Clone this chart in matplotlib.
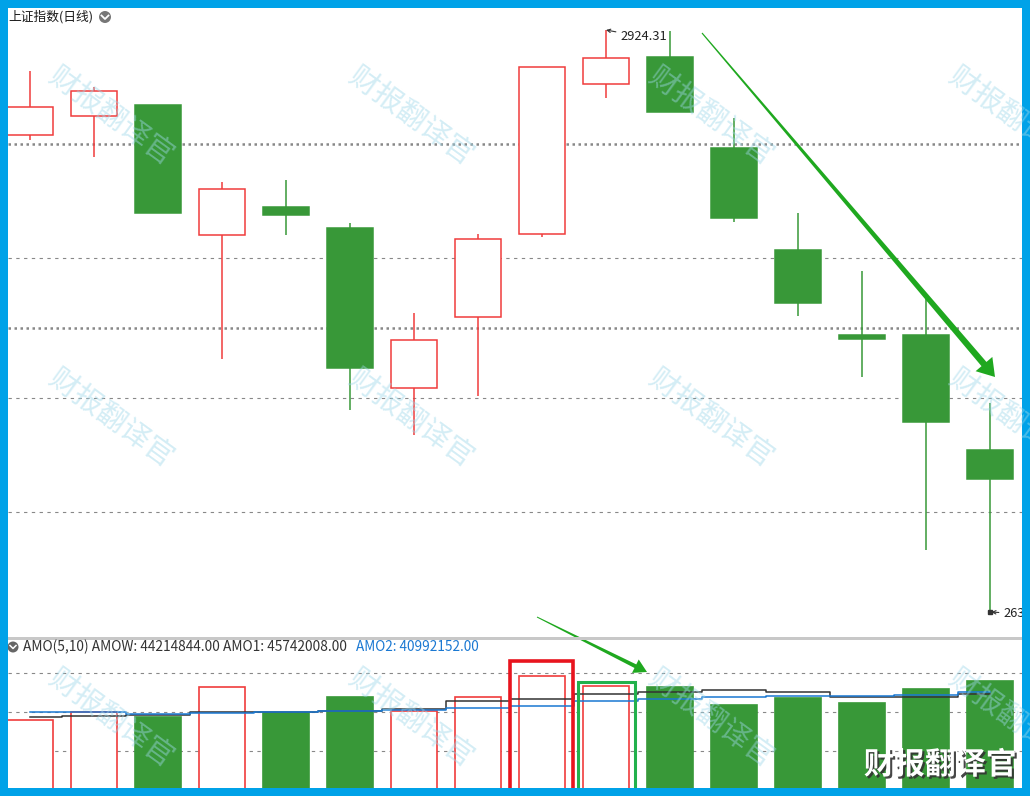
import matplotlib
matplotlib.use('Agg')
import matplotlib.pyplot as plt
import matplotlib.patheffects as pe
from matplotlib.patches import Rectangle, Polygon, Circle
import numpy as np

plt.rcParams['font.family'] = ['Noto Sans CJK SC', 'DejaVu Sans']

# 上证指数日K (16 根)
opens = [2872.1, 2881.6, 2887.0, 2822.4, 2836.3, 2825.9, 2746.4, 2781.7,
         2822.9, 2897.5, 2910.9, 2865.7, 2815.0, 2772.7, 2772.7, 2715.6]
closes = [2886.0, 2894.0, 2833.4, 2845.3, 2832.4, 2756.3, 2770.2, 2820.4,
          2905.9, 2910.4, 2883.6, 2830.9, 2788.6, 2770.7, 2729.5, 2701.2]
highs = [2903.9, 2896.0, 2887.0, 2848.8, 2849.8, 2828.4, 2783.7, 2822.9,
         2906.1, 2924.31, 2923.8, 2880.6, 2833.4, 2804.5, 2791.1, 2738.9]
lows = [2869.6, 2861.2, 2833.4, 2760.8, 2822.4, 2735.5, 2723.0, 2742.4,
        2821.4, 2890.5, 2883.6, 2828.9, 2782.2, 2751.9, 2665.9, 2635.06]

# 成交额 (百万) 及均线
amo = [39.0, 40.1, 39.4, 43.4, 40.0, 42.1, 40.2, 42.1,
       44.9, 43.6, 43.4, 41.0, 42.0, 41.3, 43.2, 44.2]
amo1 = [39.44, 39.58, 39.71, 40.11, 40.11, 40.24, 40.51, 41.57,
        41.84, 42.50, 42.77, 43.03, 42.77, 42.10, 42.10, 42.50]
amo2 = [40.11, 40.11, 39.84, 39.98, 40.11, 40.24, 40.37, 40.64,
        40.91, 41.57, 41.84, 42.10, 42.24, 42.24, 42.37, 42.77]

price_grid = [2867.65, 2810.99, 2776.20, 2741.41, 2684.76]
price_grid_dotted = [True, False, True, False, False]
vol_grid = [45.30, 40.11, 34.92]

RED = '#f03c3c'
GREEN = '#389838'
W, H = 1030, 796

fig = plt.figure(figsize=(10.3, 7.96), dpi=100, facecolor='white')


def box(x0, y0, x1, y1):
    return [x0 / W, 1 - y1 / H, (x1 - x0) / W, (y1 - y0) / H]


ax = fig.add_axes(box(8, 8, 1022, 637))
axv = fig.add_axes(box(8, 640, 1022, 788))
for a in (ax, axv):
    a.set_facecolor('white')
    for s in a.spines.values():
        s.set_visible(False)
    a.set_xticks([])
    a.set_yticks([])
    a.set_xlim(-0.344, 15.5)

ax.set_ylim(2622.63, 2935.24)
axv.set_ylim(30, 49.68)

idx = np.arange(len(opens))
o = np.array(opens)
c = np.array(closes)
up = c >= o

# 网格线
for v, dotted in zip(price_grid, price_grid_dotted):
    if dotted:
        ax.axhline(v, color='#888888', lw=1.8, ls=(0, (1, 1.4)), zorder=1)
    else:
        ax.axhline(v, color='#888888', lw=0.8, ls=(0, (3, 4)), zorder=1)
for v in vol_grid:
    axv.axhline(v, color='#888888', lw=0.8, ls=(0, (3, 4)), zorder=1)

# K线
edge = [RED if u else GREEN for u in up]
face = ['white' if u else GREEN for u in up]
ax.vlines(idx, lows, highs, colors=edge, lw=1.1, zorder=2)
bottoms = np.minimum(o, c)
heights = np.maximum(np.abs(c - o), 1.5)
ax.bar(idx, heights, bottom=bottoms, width=0.72, color=face,
       edgecolor=edge, lw=1.1, zorder=3)

# 最高/最低价标注
ih = int(np.argmax(highs))
ax.annotate(f'{highs[ih]:.2f}', xy=(ih, highs[ih]), xytext=(14, -7),
            textcoords='offset pixels', ha='left', va='center', fontsize=9.3,
            color='#222222', zorder=5,
            arrowprops=dict(arrowstyle='->', color='#333333', lw=0.8,
                            shrinkA=1, shrinkB=0, mutation_scale=6))
il = int(np.argmin(lows))
ax.plot(il, lows[il], 's', ms=2.5, color='#333333', zorder=5)
ax.annotate(f'{lows[il]:.2f}', xy=(il, lows[il]), xytext=(13, -2),
            textcoords='offset pixels', ha='left', va='center', fontsize=9.3,
            color='#222222', zorder=5,
            arrowprops=dict(arrowstyle='->', color='#333333', lw=0.8,
                            shrinkA=1, shrinkB=1, mutation_scale=6))

# 成交额柱
axv.bar(idx, amo, width=0.72, color=face, edgecolor=edge, lw=1.2, zorder=3)
axv.plot(idx, amo1, color='#333333', lw=1.1, drawstyle='steps-mid', zorder=4)
axv.plot(idx, amo2, color='#1a78d2', lw=1.1, drawstyle='steps-mid', zorder=4)

# 高亮框
axv.add_patch(Rectangle((7.5, 20), 0.984, 46.89 - 20, fill=False,
                        edgecolor='#e8141e', lw=2.6, zorder=5))
axv.add_patch(Rectangle((8.5625, 20), 0.89, 44.10 - 20, fill=False,
                        edgecolor='#22b14c', lw=2.2, zorder=5))

# 覆盖层 (像素坐标)
ov = fig.add_axes([0, 0, 1, 1])
ov.set_zorder(10)
ov.set_xlim(0, W)
ov.set_ylim(H, 0)
ov.axis('off')


def taper_arrow(x0, y0, x1, y1, w0, w1, hl, hw, color):
    d = np.array([x1 - x0, y1 - y0], dtype=float)
    u = d / np.hypot(*d)
    n = np.array([-u[1], u[0]])
    p0 = np.array([x0, y0], dtype=float)
    tip = np.array([x1, y1], dtype=float)
    base = tip - hl * u
    pts = [p0 + w0 / 2 * n, base + w1 / 2 * n, base + hw * n, tip,
           base - hw * n, base - w1 / 2 * n, p0 - w0 / 2 * n]
    ov.add_patch(Polygon(pts, closed=True, facecolor=color, lw=0))


taper_arrow(702, 33, 995, 377, 1.2, 6.5, 17, 11, '#1fa81f')
taper_arrow(537, 617, 647, 672, 1.0, 4.0, 13, 7.5, '#1fa81f')

# 水印
for wy in (118, 420, 720):
    for wx in (110, 410, 710, 1010):
        ov.text(wx, wy, '财报翻译官', rotation=-36, ha='center', va='center',
                fontsize=21, color='#9fd8ea', alpha=0.45)

ov.text(940, 765, '财报翻译官', ha='center', va='center', fontsize=22,
        fontweight='bold', color='white',
        path_effects=[pe.withSimplePatchShadow(offset=(1.5, -1.5),
                                               shadow_rgbFace='#333333',
                                               alpha=0.9)])

# 标题与指标文字
ov.text(8, 17, '上证指数(日线)', ha='left', va='center', fontsize=9.2,
        color='#1a1a1a')
ov.add_patch(Circle((105, 17), 6, color='#777777', lw=0))
ov.plot([101.5, 105, 108.5], [15.5, 19, 15.5], color='white', lw=1.3)

ov.add_patch(Rectangle((8, 637), 1014, 3, color='#c8c8c8', lw=0))
ov.add_patch(Circle((13, 647), 5.5, color='#666666', lw=0))
ov.plot([10, 13, 16], [645.5, 648.5, 645.5], color='white', lw=1.1)
ov.text(23, 647, 'AMO(5,10) AMOW: 44214844.00 AMO1: 45742008.00',
        ha='left', va='center', fontsize=9.9, color='#333333')
ov.text(356, 647, 'AMO2: 40992152.00', ha='left', va='center', fontsize=9.8,
        color='#1a78d2')

# 蓝色边框
for r in [(0, 0, W, 8), (0, 0, 8, H), (1022, 0, 8, H), (0, 788, W, 8)]:
    ov.add_patch(Rectangle((r[0], r[1]), r[2], r[3], color='#00a2e8', lw=0))

fig.savefig('out.png', dpi=100, facecolor='white')
